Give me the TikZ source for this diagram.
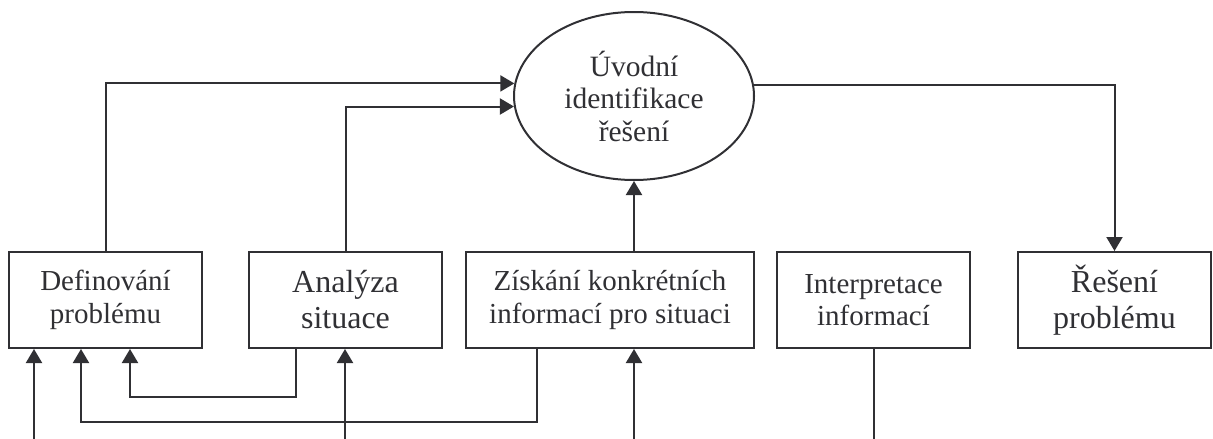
\documentclass[tikz,border=0pt]{standalone}
\usepackage{fontspec}
\setmainfont{Liberation Serif}
\usetikzlibrary{shapes.geometric,arrows.meta,calc}
\definecolor{ink}{RGB}{48,48,52}
\begin{document}
\begin{tikzpicture}[x=1pt,y=-1pt,
  every node/.style={text=ink},
  box/.style={draw=ink,line width=2pt,rectangle,minimum height=96pt,inner sep=0pt,align=center},
  smalltext/.style={font=\fontsize{29}{32.5}\selectfont},
  bigtext/.style={font=\fontsize{32}{36}\selectfont},
  conn/.style={draw=ink,line width=2pt},
  arr/.style={conn,-{Triangle[length=14pt,width=16pt]}}]
\useasboundingbox (0,0) rectangle (1213,439);
% nodes
\node[draw=ink,line width=2pt,ellipse,minimum width=240pt,minimum height=168pt,inner sep=0pt,align=center,font=\fontsize{29.5}{32.5}\selectfont] (el) at (634,96) {Úvodní\\identifikace\\řešení};
\node[box,smalltext,minimum width=193pt] (b1) at (105.5,300) {Definování\\problému};
\node[box,bigtext,minimum width=193pt] (b2) at (345.5,300) {Analýza\\situace};
\node[box,smalltext,minimum width=288pt] (b3) at (610,300) {Získání konkrétních\\informací pro situaci};
\node[box,smalltext,minimum width=193pt] (b4) at (873.5,300) {Interpretace\\informací};
\node[box,bigtext,minimum width=193pt] (b5) at (1114.5,300) {Řešení\\problému};
% free ends at the bottom edge
\coordinate (s1) at (34,439);
\coordinate (s2) at (345,439);
\coordinate (s3) at (634,439);
\coordinate (s4) at (874,439);
% connectors to the ellipse
\draw[arr] (b1.north) |- (el.174.23);
\draw[arr] (b2.north) |- (el.185.77);
\draw[arr] (el.south |- b3.north) -- (el.south);
\draw[arr] (el.5.77) -| (b5.north);
% feedback connectors
\draw[arr] ($(b2.south west)+(48,0)$) -- ++(0,48) -| ($(b1.south west)+(122,0)$);
\draw[arr] ($(b3.south west)+(72,0)$) -- ++(0,73) -| ($(b1.south west)+(73,0)$);
% inputs from below
\draw[arr] (s1) -- (s1 |- b1.south);
\draw[arr] (s2) -- (s2 |- b2.south);
\draw[arr] (s3) -- (s3 |- b3.south);
\draw[conn] (s4 |- b4.south) -- (s4);
\end{tikzpicture}
\end{document}
